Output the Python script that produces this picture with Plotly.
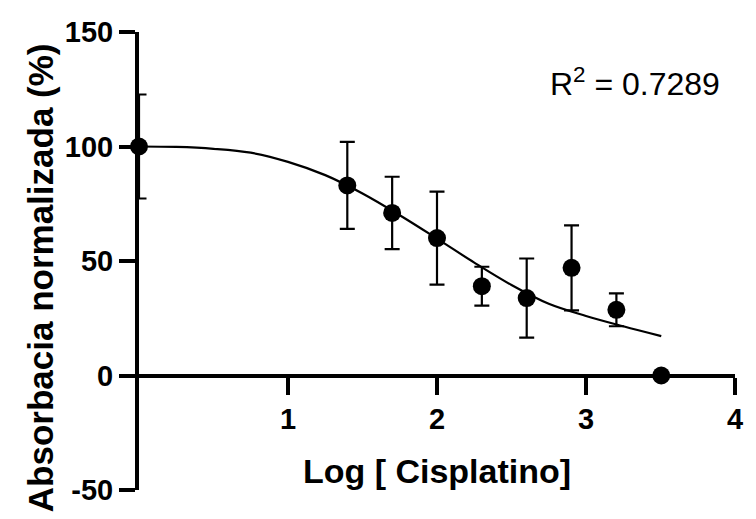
import plotly.graph_objects as go

# Data
log_conc = [0.0, 1.398, 1.699, 2.0, 2.301, 2.602, 2.903, 3.204, 3.505]
absorb_mean = [100.0, 83.0, 71.0, 60.0, 39.0, 33.8, 47.0, 28.7, 0.0]
absorb_err = [22.7, 19.0, 15.8, 20.3, 8.5, 17.3, 18.6, 7.2, 0.0]

# Fitted curve
curve_x = [0.0, 0.25, 0.5, 0.75, 1.0, 1.25, 1.5, 1.75, 2.0, 2.25, 2.5, 2.75, 3.0, 3.25, 3.505]
curve_y = [100.0, 99.8, 99.0, 97.3, 93.3, 87.5, 79.5, 70.0, 59.8, 49.3, 39.5, 31.3, 26.0, 21.5, 17.2]

x_ticks = [1, 2, 3, 4]
y_ticks = [-50, 0, 50, 100, 150]
r2_text = "R<sup>2</sup> = 0.7289"
x_title = "Log [ Cisplatino]"
y_title = "Absorbacia normalizada (%)"

FONT = "Liberation Sans, Arial, sans-serif"

fig = go.Figure()
fig.add_trace(go.Scatter(
    x=curve_x, y=curve_y, mode="lines",
    line=dict(color="black", width=2.2, shape="spline"),
    hoverinfo="skip", showlegend=False,
))
fig.add_trace(go.Scatter(
    x=log_conc, y=absorb_mean, mode="markers",
    marker=dict(color="black", size=18, symbol="circle"),
    error_y=dict(type="data", array=absorb_err, visible=True,
                 color="black", thickness=2.2, width=7.5),
    cliponaxis=False, showlegend=False,
))

fig.add_annotation(
    x=3.33, y=128, xref="x", yref="y", text=r2_text, showarrow=False,
    font=dict(family=FONT, size=32, color="black"),
    xanchor="center", yanchor="middle",
)
fig.add_annotation(
    x=-0.164, y=0.463, xref="paper", yref="paper", text=y_title, showarrow=False,
    textangle=-90, xanchor="center", yanchor="middle",
    font=dict(family=FONT, size=35, color="black", weight="bold"),
)

# the page body adds an 8px offset, so the figure is 8px smaller
fig.update_layout(
    width=748, height=511,
    margin=dict(l=131, r=21, t=24, b=29),
    paper_bgcolor="white", plot_bgcolor="white",
    font=dict(family=FONT, color="black"),
    xaxis=dict(
        range=[0, 4], tickvals=x_ticks, ticktext=[str(v) for v in x_ticks],
        anchor="free", position=0.25, automargin=False,
        showline=True, linecolor="black", linewidth=4,
        ticks="outside", ticklen=17, tickwidth=4, tickcolor="black",
        tickfont=dict(family=FONT, size=29, color="black", weight="bold"),
        showgrid=False, zeroline=False,
        title=dict(text=x_title, standoff=24,
                   font=dict(family=FONT, size=34, color="black", weight="bold")),
    ),
    yaxis=dict(
        range=[-50, 150], tickvals=y_ticks, ticktext=[str(v) for v in y_ticks],
        automargin=False,
        showline=True, linecolor="black", linewidth=4,
        ticks="outside", ticklen=16, tickwidth=4, tickcolor="black",
        tickfont=dict(family=FONT, size=29, color="black", weight="bold"),
        showgrid=False, zeroline=False,
    ),
)

fig.write_html("out.html")
